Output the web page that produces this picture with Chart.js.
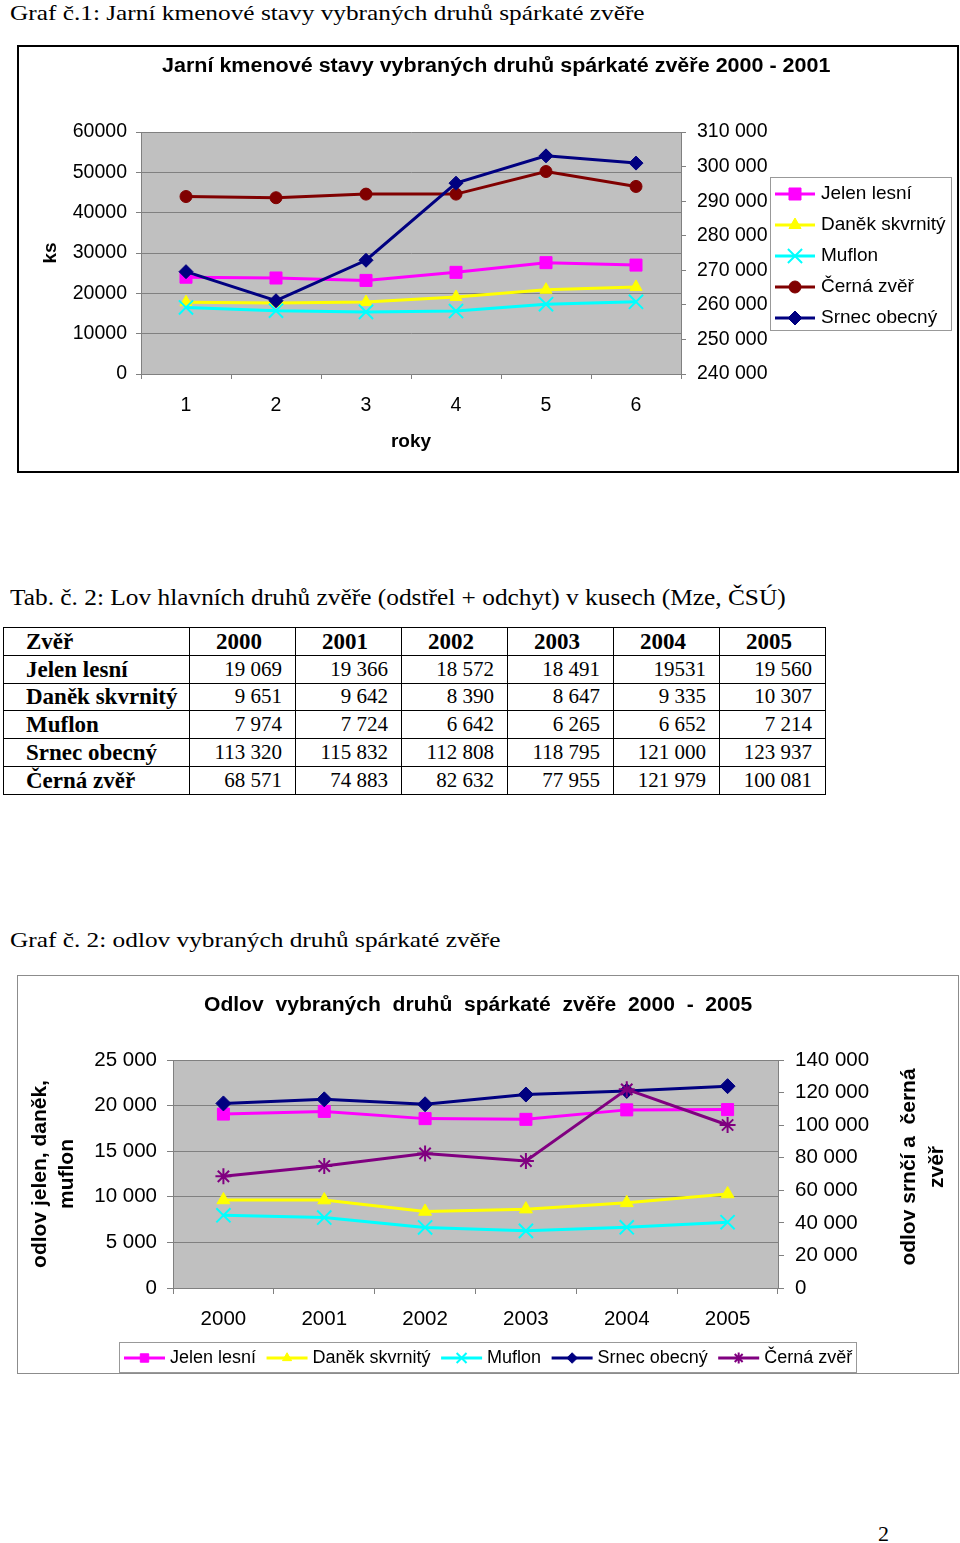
<!DOCTYPE html>
<html lang="cs">
<head>
<meta charset="UTF-8">
<title>Jarní kmenové stavy a odlov spárkaté zvěře</title>
<script src="https://cdn.jsdelivr.net/npm/chart.js"></script>
<style>
  body { margin: 0; background: #fff; }
  #page { position: relative; width: 960px; height: 1543px; overflow: hidden; }
  .serif {
    position: absolute; font-family: 'Liberation Serif', 'Times New Roman', serif;
    font-size: 22px; line-height: 22px; white-space: pre; color: #000; transform-origin: 0 0;
  }
  .ctitle {
    position: absolute; font-family: 'Liberation Sans', Arial, sans-serif; font-weight: bold;
    font-size: 20px; line-height: 20px; white-space: pre; color: #000; transform-origin: 0 0;
  }
  #box1 { position: absolute; left: 17px; top: 45px; width: 938px; height: 424px; border: 2px solid #000; }
  #box2 { position: absolute; left: 17px; top: 975px; width: 940px; height: 397px; border: 1px solid #8c8c8c; }
  #box1 canvas, #box2 canvas { position: absolute; left: 0; top: 0; }
  #rtitle {
    position: absolute; left: 812px; top: 1139px; width: 220px; height: 56px;
    font-family: 'Liberation Sans', Arial, sans-serif; font-weight: bold; font-size: 21px;
    line-height: 28px; text-align: center; white-space: pre; transform: rotate(-90deg);
  }
  #tab {
    position: absolute; left: 3px; top: 627px; width: 822px; border-collapse: collapse;
    table-layout: fixed; font-family: 'Liberation Serif', 'Times New Roman', serif; color: #000;
  }
  #tab tr { height: 27.8px; }
  #tab th, #tab td { border: 1px solid #000; padding: 0; line-height: 1; vertical-align: middle; white-space: nowrap; }
  #tab th { font-weight: bold; font-size: 23px; text-align: left; padding-left: 22px; }
  #tab thead th + th { padding-left: 26px; }
  #tab td { font-size: 21px; text-align: right; padding-right: 13px; }
</style>
</head>
<body>
<div id="page">
  <div class="serif" style="left:10px; top:2px" data-w="635">Graf č.1: Jarní kmenové stavy vybraných druhů spárkaté zvěře</div>

  <div id="box1"><canvas id="graf1" width="938" height="424"></canvas></div>
  <div class="ctitle" style="left:162px; top:55px" data-w="668">Jarní kmenové stavy vybraných druhů spárkaté zvěře 2000 - 2001</div>

  <div class="serif" style="left:10px; top:586px; font-size:23px; line-height:23px" data-w="776">Tab. č. 2: Lov hlavních druhů zvěře (odstřel + odchyt) v kusech (Mze, ČSÚ)</div>

  <table id="tab">
    <colgroup>
      <col style="width:186px"><col style="width:106px"><col style="width:106px"><col style="width:106px">
      <col style="width:106px"><col style="width:106px"><col style="width:106px">
    </colgroup>
    <thead>
      <tr><th>Zvěř</th><th>2000</th><th>2001</th><th>2002</th><th>2003</th><th>2004</th><th>2005</th></tr>
    </thead>
    <tbody>
      <tr><th>Jelen lesní</th><td>19 069</td><td>19 366</td><td>18 572</td><td>18 491</td><td>19531</td><td>19 560</td></tr>
      <tr><th>Daněk skvrnitý</th><td>9 651</td><td>9 642</td><td>8 390</td><td>8 647</td><td>9 335</td><td>10 307</td></tr>
      <tr><th>Muflon</th><td>7 974</td><td>7 724</td><td>6 642</td><td>6 265</td><td>6 652</td><td>7 214</td></tr>
      <tr><th>Srnec obecný</th><td>113 320</td><td>115 832</td><td>112 808</td><td>118 795</td><td>121 000</td><td>123 937</td></tr>
      <tr><th>Černá zvěř</th><td>68 571</td><td>74 883</td><td>82 632</td><td>77 955</td><td>121 979</td><td>100 081</td></tr>
    </tbody>
  </table>

  <div class="serif" style="left:10px; top:929px" data-w="490">Graf č. 2: odlov vybraných druhů spárkaté zvěře</div>

  <div id="box2"><canvas id="graf2" width="940" height="397"></canvas></div>
  <div class="ctitle" style="left:204px; top:994px" data-w="548">Odlov  vybraných  druhů  spárkaté  zvěře  2000  -  2005</div>
  <div id="rtitle">odlov srnčí a  černá
zvěř</div>

  <div class="serif" style="left:878px; top:1523px">2</div>
</div>

<script>
  // graf 1 - jarni kmenove stavy
  const roky1 = ['1', '2', '3', '4', '5', '6'];
  const jelenStav = [24000, 23800, 23200, 25200, 27600, 27000];
  const danekStav = [17800, 17600, 17850, 19100, 20900, 21600];
  const muflonStav = [16500, 15700, 15400, 15600, 17300, 17900];
  const cernaStav = [44000, 43700, 44600, 44600, 50200, 46500];
  const srnecStav = [269600, 261200, 272900, 295200, 303100, 301000];
  const osa1 = { min: 0, max: 60000, step: 10000 };
  const osa1Prava = { min: 240000, max: 310000, step: 10000 };

  // graf 2 - odlov (tabulka 2)
  const roky2 = ['2000', '2001', '2002', '2003', '2004', '2005'];
  const jelenOdlov = [19069, 19366, 18572, 18491, 19531, 19560];
  const danekOdlov = [9651, 9642, 8390, 8647, 9335, 10307];
  const muflonOdlov = [7974, 7724, 6642, 6265, 6652, 7214];
  const srnecOdlov = [113320, 115832, 112808, 118795, 121000, 123937];
  const cernaOdlov = [68571, 74883, 82632, 77955, 121979, 100081];
  const osa2 = { min: 0, max: 25000, step: 5000 };
  const osa2Prava = { min: 0, max: 140000, step: 20000 };

  const GRID = '#808080';
  Chart.defaults.font.family = "'Liberation Sans', Arial, sans-serif";
  Chart.defaults.color = '#000';

  const mezery = v => String(v).replace(/\B(?=(\d{3})+(?!\d))/g, ' ');

  function serie(label, data, color, style, r, axis, pbw, i) {
    return {
      label: label, data: data, yAxisID: axis, order: -i,
      borderColor: color, backgroundColor: color, borderWidth: 3, tension: 0,
      pointStyle: style, pointRadius: r, pointBackgroundColor: color,
      pointBorderColor: color, pointBorderWidth: pbw
    };
  }

  const plotBg = {
    id: 'plotBg',
    beforeDraw(chart, args, o) {
      const a = chart.chartArea, ctx = chart.ctx;
      ctx.save();
      ctx.fillStyle = o.color;
      ctx.fillRect(a.left, a.top, a.right - a.left, a.bottom - a.top);
      ctx.restore();
    }
  };

  const boxLegend = {
    id: 'boxLegend',
    afterDraw(chart, args, o) {
      const ctx = chart.ctx, b = o.box;
      ctx.save();
      ctx.fillStyle = '#fff';
      ctx.fillRect(b.x, b.y, b.w, b.h);
      ctx.strokeStyle = o.borderColor;
      ctx.lineWidth = 1;
      ctx.strokeRect(b.x + 0.5, b.y + 0.5, b.w - 1, b.h - 1);
      ctx.font = o.font;
      ctx.textBaseline = 'middle';
      ctx.textAlign = 'left';
      let x = o.x, y = o.y;
      chart.data.datasets.forEach(ds => {
        ctx.strokeStyle = ds.borderColor;
        ctx.lineWidth = ds.borderWidth;
        ctx.beginPath();
        ctx.moveTo(x, y);
        ctx.lineTo(x + o.lineLen, y);
        ctx.stroke();
        ctx.fillStyle = ds.pointBackgroundColor;
        ctx.strokeStyle = ds.pointBorderColor;
        ctx.lineWidth = ds.pointBorderWidth;
        Chart.helpers.drawPoint(ctx, {
          pointStyle: ds.pointStyle, rotation: 0,
          radius: ds.pointRadius * o.markerScale, borderWidth: ds.pointBorderWidth
        }, x + o.lineLen / 2, y);
        ctx.fillStyle = '#000';
        ctx.fillText(ds.label, x + o.lineLen + o.textGap, y);
        if (o.horizontal) x += o.lineLen + o.textGap + ctx.measureText(ds.label).width + o.itemGap;
        else y += o.step;
      });
      ctx.restore();
    }
  };

  new Chart(document.getElementById('graf1'), {
    type: 'line',
    data: {
      labels: roky1,
      datasets: [
        serie('Jelen lesní', jelenStav, '#ff00ff', 'rect', 8.5, 'y', 1, 0),
        serie('Daněk skvrnitý', danekStav, '#ffff00', 'triangle', 7, 'y', 1, 1),
        serie('Muflon', muflonStav, '#00ffff', 'crossRot', 10, 'y', 2, 2),
        serie('Černá zvěř', cernaStav, '#800000', 'circle', 6, 'y', 1, 3),
        serie('Srnec obecný', srnecStav, '#000080', 'rectRot', 7, 'y2', 1, 4)
      ]
    },
    options: {
      responsive: false,
      animation: false,
      layout: { padding: { top: 85, left: 0, right: 0, bottom: 0 } },
      plugins: {
        legend: { display: false },
        tooltip: { enabled: false },
        plotBg: { color: '#c0c0c0' },
        boxLegend: {
          box: { x: 751, y: 130, w: 182, h: 154 }, borderColor: '#999',
          x: 756, y: 147, step: 31, lineLen: 40, textGap: 6, markerScale: 1,
          font: "19px 'Liberation Sans', Arial, sans-serif", horizontal: false
        }
      },
      scales: {
        x: {
          offset: true,
          grid: { offset: true, drawOnChartArea: false, tickLength: 5, color: GRID },
          border: { color: GRID },
          ticks: { padding: 15, font: { size: 19.5 } },
          title: { display: true, text: 'roky', font: { size: 19, weight: 'bold' }, padding: { top: 0, bottom: 18 } },
          afterFit: s => { s.height = 97; }
        },
        y: {
          position: 'left', min: osa1.min, max: osa1.max,
          ticks: { stepSize: osa1.step, padding: 9, font: { size: 19.5 }, callback: v => String(v) },
          grid: { color: GRID, tickLength: 5 },
          border: { color: GRID },
          title: { display: true, text: 'ks', font: { size: 19, weight: 'bold' }, padding: { top: 20, bottom: 0 } },
          afterFit: s => { s.width = 122; }
        },
        y2: {
          position: 'right', min: osa1Prava.min, max: osa1Prava.max,
          ticks: { stepSize: osa1Prava.step, padding: 11, font: { size: 19.5 }, callback: v => mezery(v) },
          grid: { drawOnChartArea: false, tickLength: 5, color: GRID },
          border: { color: GRID },
          afterFit: s => { s.width = 276; }
        }
      }
    },
    plugins: [plotBg, boxLegend]
  });

  new Chart(document.getElementById('graf2'), {
    type: 'line',
    data: {
      labels: roky2,
      datasets: [
        serie('Jelen lesní', jelenOdlov, '#ff00ff', 'rect', 8.5, 'y', 1, 0),
        serie('Daněk skvrnitý', danekOdlov, '#ffff00', 'triangle', 7.5, 'y', 1, 1),
        serie('Muflon', muflonOdlov, '#00ffff', 'crossRot', 10, 'y', 2, 2),
        serie('Srnec obecný', srnecOdlov, '#000080', 'rectRot', 7.5, 'y2', 1, 3),
        serie('Černá zvěř', cernaOdlov, '#800080', 'star', 8, 'y2', 2, 4)
      ]
    },
    options: {
      responsive: false,
      animation: false,
      layout: { padding: { top: 84, left: 0, right: 0, bottom: 0 } },
      plugins: {
        legend: { display: false },
        tooltip: { enabled: false },
        plotBg: { color: '#c0c0c0' },
        boxLegend: {
          box: { x: 101, y: 366, w: 738, h: 31 }, borderColor: '#999',
          x: 106, y: 382, lineLen: 41, textGap: 5, itemGap: 10.5, markerScale: 0.7,
          font: "18px 'Liberation Sans', Arial, sans-serif", horizontal: true
        }
      },
      scales: {
        x: {
          offset: true,
          grid: { offset: true, drawOnChartArea: false, tickLength: 6, color: GRID },
          border: { color: GRID },
          ticks: { padding: 13, font: { size: 20.5 } },
          afterFit: s => { s.height = 85; }
        },
        y: {
          position: 'left', min: osa2.min, max: osa2.max,
          ticks: { stepSize: osa2.step, padding: 10, font: { size: 20.5 }, callback: v => mezery(v) },
          grid: { color: GRID, tickLength: 6 },
          border: { color: GRID },
          title: {
            display: true, text: ['odlov jelen, daněk,', 'muflon'],
            font: { size: 21, weight: 'bold', lineHeight: 1.286 }, padding: { top: 8.5, bottom: 0 }
          },
          afterFit: s => { s.width = 155; }
        },
        y2: {
          position: 'right', min: osa2Prava.min, max: osa2Prava.max,
          ticks: { stepSize: osa2Prava.step, padding: 11, font: { size: 20.5 }, callback: v => mezery(v) },
          grid: { drawOnChartArea: false, tickLength: 6, color: GRID },
          border: { color: GRID },
          afterFit: s => { s.width = 180; }
        }
      }
    },
    plugins: [plotBg, boxLegend]
  });

  // zuzeni textu na sirku z predlohy
  function fit() {
    document.querySelectorAll('[data-w]').forEach(el => {
      el.style.transform = 'none';
      el.style.transform = 'scaleX(' + (el.dataset.w / el.offsetWidth) + ')';
    });
  }
  fit();
  if (document.fonts) document.fonts.ready.then(fit);
</script>
</body>
</html>
